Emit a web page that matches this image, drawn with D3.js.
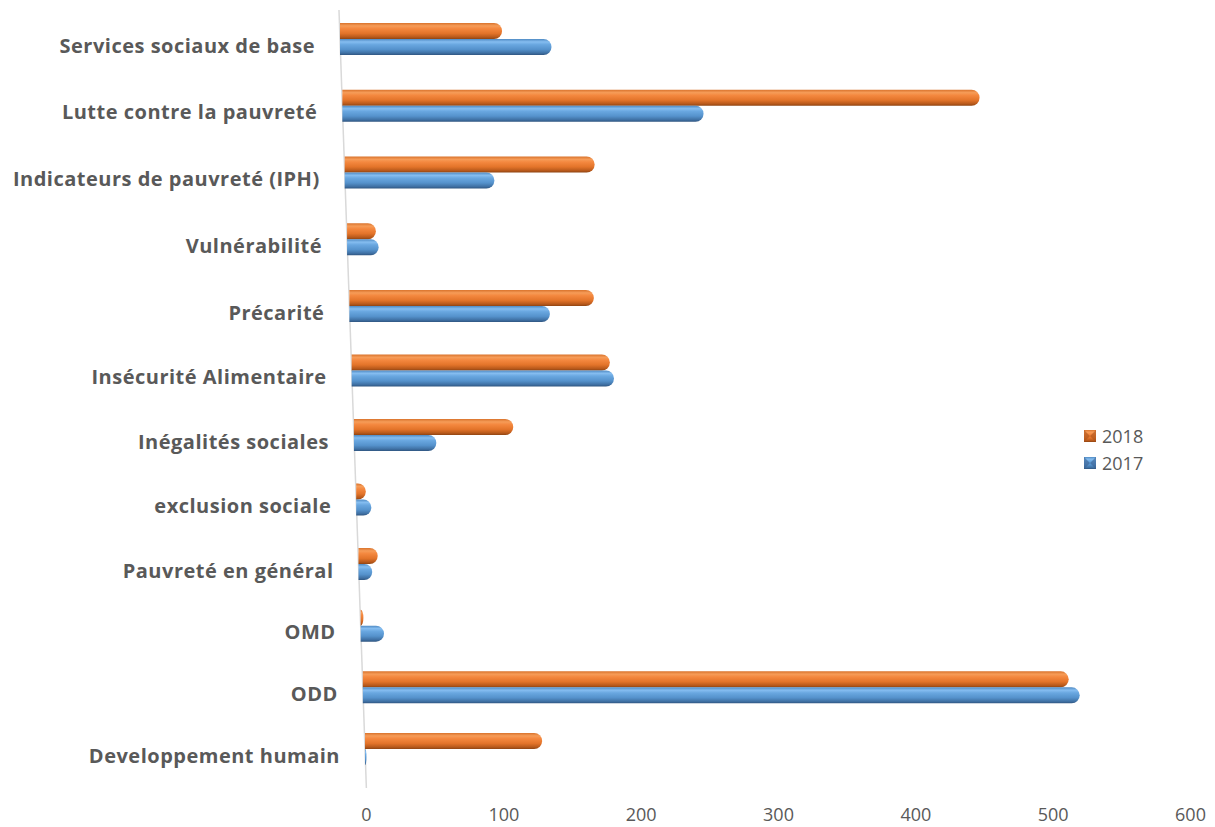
<!DOCTYPE html>
<html>
<head>
<meta charset="utf-8">
<script src="https://cdn.jsdelivr.net/npm/d3@7"></script>
<style>
  html, body { margin: 0; padding: 0; background: #ffffff; }
  svg { display: block; }
</style>
</head>
<body>
<svg id="chart" width="1215" height="827"></svg>
<script>
// Categories, top to bottom
const categories = [
  "Services sociaux de base",
  "Lutte contre la pauvreté",
  "Indicateurs de pauvreté (IPH)",
  "Vulnérabilité",
  "Précarité",
  "Insécurité Alimentaire",
  "Inégalités sociales",
  "exclusion sociale",
  "Pauvreté en général",
  "OMD",
  "ODD",
  "Developpement humain"
];
const values2018 = [118, 464, 182, 21, 178, 188, 116, 7, 14, 2, 514, 129];
const values2017 = [154, 263, 109, 23, 146, 191, 60, 11, 10, 17, 522, 1];
const seriesNames = ["2018", "2017"];
const xTicks = [0, 100, 200, 300, 400, 500, 600];

const svg = d3.select("#chart");
const defs = svg.append("defs");

// Cylinder-style shading for each series
function cylinderGradient(id, stops) {
  const g = defs.append("linearGradient")
    .attr("id", id).attr("x1", 0).attr("y1", 0).attr("x2", 0).attr("y2", 1);
  stops.forEach(([o, c]) => g.append("stop").attr("offset", o).attr("stop-color", c));
}
cylinderGradient("grad2018", [
  [0, "#d9732c"], [0.18, "#f69c58"], [0.35, "#f4883f"], [0.65, "#e3742a"],
  [0.88, "#b8591b"], [1, "#8f4412"]
]);
cylinderGradient("grad2017", [
  [0, "#4f8ac3"], [0.18, "#85bdf0"], [0.35, "#69a7e0"], [0.65, "#5592cc"],
  [0.88, "#3f70a3"], [1, "#2f5580"]
]);
const fills = { "2018": "url(#grad2018)", "2017": "url(#grad2017)" };

// Row positions (rows tighten slightly toward the bottom, as in a perspective view)
const rowIndex = d3.scaleLinear().domain([0, 4, 8, 11]).range([39, 306, 564, 749]);
// Zero line drifts right as rows go down
const zeroX = d3.scaleLinear().domain([39, 749]).range([340, 365]);
// Value length
const len = d3.scaleLinear().domain([0, 600]).range([0, 824]);
const barH = 16;

const labelFont = "'Open Sans', Lato, sans-serif";

// Slanted zero line
svg.append("line")
  .attr("x1", zeroX(10)).attr("y1", 10)
  .attr("x2", zeroX(788)).attr("y2", 788)
  .attr("stroke", "#d9d9d9").attr("stroke-width", 1.5);

function barPath(x0, yTop, w, h) {
  const ry = h / 2;
  const rx = Math.min(ry, Math.max(w, 1.5));
  const xe = x0 + Math.max(w, 1.5);
  return `M${x0},${yTop} H${xe - rx} A${rx},${ry} 0 0 1 ${xe},${yTop + ry} ` +
         `A${rx},${ry} 0 0 1 ${xe - rx},${yTop + h} H${x0} Z`;
}

const rows = categories.map((c, i) => ({
  cat: c, y: rowIndex(i), v2018: values2018[i], v2017: values2017[i]
}));

const g = svg.append("g");
rows.forEach(r => {
  const x0 = zeroX(r.y);
  // 2018 above, 2017 below
  [["2018", r.v2018, r.y - barH], ["2017", r.v2017, r.y]].forEach(([s, v, yTop]) => {
    g.append("path")
      .attr("d", barPath(x0, yTop, len(v), barH))
      .attr("fill", fills[s]);
  });
  g.append("text")
    .attr("x", x0 - 25)
    .attr("y", r.y + 6)
    .attr("text-anchor", "end")
    .attr("dominant-baseline", "central")
    .attr("font-family", labelFont)
    .attr("font-weight", "bold")
    .attr("font-size", 20)
    .attr("letter-spacing", 0.5)
    .attr("fill", "#595959")
    .text(r.cat);
});

// Value axis along the bottom
const xAxisScale = d3.scaleLinear().domain([0, 600]).range([366, 1190]);
const axis = svg.append("g")
  .attr("transform", "translate(0,802)")
  .call(d3.axisBottom(xAxisScale).tickValues(xTicks).tickSize(0).tickPadding(6));
axis.select(".domain").remove();
axis.selectAll("text")
  .attr("font-family", labelFont)
  .attr("font-size", 18)
  .attr("fill", "#595959");

// Legend
const legend = svg.append("g").attr("transform", "translate(1084,436)");
seriesNames.forEach((s, i) => {
  const item = legend.append("g").attr("transform", `translate(0,${i * 27})`);
  item.append("rect")
    .attr("x", 0).attr("y", -6).attr("width", 12).attr("height", 12)
    .attr("fill", fills[s]);
  item.append("path")
    .attr("d", "M0,-6 L6,0 L0,6 Z M12,-6 L6,0 L12,6 Z")
    .attr("fill", s === "2018" ? "#a9521a" : "#3a5f8f").attr("opacity", 0.6);
  item.append("text")
    .attr("x", 18).attr("y", 0)
    .attr("dominant-baseline", "central")
    .attr("font-family", labelFont)
    .attr("font-size", 18)
    .attr("fill", "#595959")
    .text(s);
});
</script>
</body>
</html>
